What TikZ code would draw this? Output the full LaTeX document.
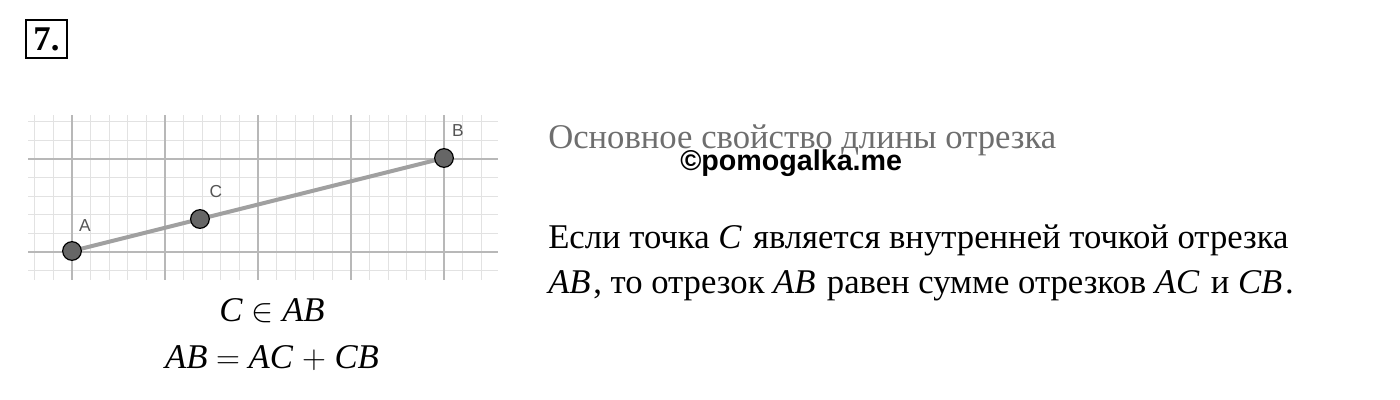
\documentclass[tikz,border=0pt]{standalone}
\usepackage{fontspec}
\setmainfont{Liberation Serif}
\newfontfamily\labelfont{Liberation Sans}
\usetikzlibrary{positioning,calc}
\definecolor{gridminor}{HTML}{E2E2E2}
\definecolor{gridmajor}{HTML}{B8B8B8}
\definecolor{segcol}{HTML}{A0A0A0}
\definecolor{ptfill}{HTML}{666666}
\definecolor{ptlab}{HTML}{555555}
\definecolor{titlecol}{HTML}{6E6E6E}
\newcommand{\seg}[1]{\textit{#1}\kern2pt\relax}
\tikzset{
  pt/.style = {circle, draw=black, fill=ptfill, line width=0.9pt, minimum size=14pt, inner sep=0pt},
  ptlabel/.style = {text=ptlab, font=\labelfont\fontsize{13}{13}\selectfont, inner sep=0pt},
  bodytext/.style = {anchor=base west, inner sep=0pt, font=\fontsize{26}{30}\selectfont},
  formula/.style = {anchor=base, inner sep=0pt, font=\fontsize{26}{30}\selectfont},
  numbox/.style = {draw, line width=1.6pt, inner sep=0pt, minimum width=31pt, minimum height=29pt,
    font=\bfseries\fontsize{26}{26}\selectfont}
}

\begin{document}
\begin{tikzpicture}[x=0.75pt, y=-0.75pt]
	\useasboundingbox (0,0) rectangle (1400,400);
	% task number
	\node [numbox] (num) at (46.5,39) {7.};
	% grid
	\foreach \i in {-2,...,22}
		\draw [gridminor, line width=0.8pt] (72+18.6*\i,115) -- (72+18.6*\i,280);
	\foreach \j in {-7,...,1}
		\draw [gridminor, line width=0.8pt] (28,252+18.6*\j) -- (498,252+18.6*\j);
	\foreach \i in {0,...,4}
		\draw [gridmajor, line width=1pt] (72+93*\i,115) -- (72+93*\i,280);
	\foreach \j in {0,1}
		\draw [gridmajor, line width=1pt] (28,252-93*\j) -- (498,252-93*\j);
	% segment and points
	\coordinate (a) at (72,251);
	\coordinate (b) at (444,158);
	\coordinate (c) at ($(a)!0.344!(b)$);
	\draw [segcol, line width=3pt] (a) -- (b);
	\node [pt] (A) at (a) {};
	\node [pt] (C) at (c) {};
	\node [pt] (B) at (b) {};
	\node [ptlabel] (labA) at (85,226) {A};
	\node [ptlabel] (labC) at (216,192) {C};
	\node [ptlabel] (labB) at (458,131) {B};
	% formulas
	\node [formula] (f1) at (272,321) {\textit{C} $\in$ \textit{AB}};
	\node [formula] (f2) at (272,368) {\textit{AB} $=$ \textit{AC} $+$ \textit{CB}};
	% text
	\node [bodytext, text=titlecol] (title) at (548,148) {Основное свойство длины отрезка};
	\node [anchor=base west, inner sep=0pt, font=\labelfont\bfseries\fontsize{21.5}{21.5}\selectfont]
		(mark) at (680,170) {©pomogalka.me};
	\node [bodytext] (line1) at (548,248) {Если точка \seg{C} является внутренней точкой отрезка};
	\node [bodytext] (line2) at (548,293) {\seg{AB}, то отрезок \seg{AB} равен сумме отрезков \seg{AC} и \seg{CB}.};
\end{tikzpicture}
\end{document}
